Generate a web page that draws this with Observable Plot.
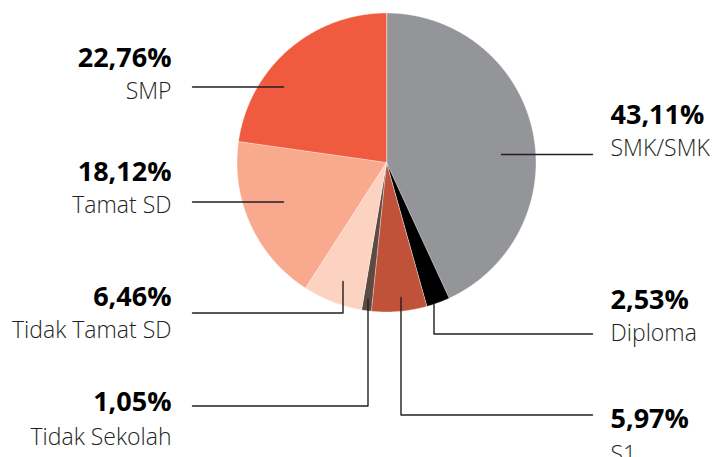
<!DOCTYPE html>
<html><head><meta charset="utf-8">
<script src="https://cdn.jsdelivr.net/npm/d3@7"></script>
<script src="https://cdn.jsdelivr.net/npm/@observablehq/plot@0.6"></script>
<style>html,body{margin:0;padding:0;background:#fff;overflow:hidden}</style>
</head><body><div id="chart"></div>
<script>
// ---- data ----
const categories = ["SMK/SMK", "Diploma", "S1", "Tidak Sekolah", "Tidak Tamat SD", "Tamat SD", "SMP"];
const values = [43.11, 2.53, 5.97, 1.05, 6.46, 18.12, 22.76];

// ---- styles ----
const colors = ["#939598", "#000000", "#c0523a", "#5f4a42", "#fcd3c1", "#f9a98e", "#f05b40"];

// ---- layout (pixels) ----
const pieGeom = {cx: 386, cy: 162, r: 149.5};
const leaders = {
  "SMK/SMK": [[501, 154], [592, 154]],
  "Diploma": [[433.5, 304], [433.5, 333.5], [592, 333.5]],
  "S1": [[400.5, 297], [400.5, 414.5], [592, 414.5]],
  "Tidak Sekolah": [[367.5, 299], [367.5, 405.5], [192, 405.5]],
  "Tidak Tamat SD": [[342.5, 281], [342.5, 312.5], [192, 312.5]],
  "Tamat SD": [[283, 201.5], [192, 201.5]],
  "SMP": [[283, 86.5], [192, 86.5]]
};
const labelPos = {
  "SMK/SMK": {x: 610, pct: 123, name: 155, side: "right"},
  "Diploma": {x: 610, pct: 308, name: 340, side: "right"},
  "S1": {x: 610, pct: 427, name: 461, side: "right"},
  "Tidak Sekolah": {x: 171, pct: 410, name: 444, side: "left"},
  "Tidak Tamat SD": {x: 171, pct: 305, name: 337, side: "left"},
  "Tamat SD": {x: 171, pct: 180, name: 212, side: "left"},
  "SMP": {x: 171, pct: 66, name: 98, side: "left"}
};

const rows = categories.map((c, i) => ({cat: c, value: values[i], color: colors[i],
  pctText: values[i].toFixed(2).replace(".", ",") + "%"}));

// slices from d3.pie (clockwise from 12 o'clock)
const arcs = d3.pie().sort(null).value(d => d.value)(rows);
const slicePts = [];
for (const a of arcs) {
  const {cx, cy, r} = pieGeom;
  slicePts.push({cat: a.data.cat, color: a.data.color, x: cx, y: cy});
  const n = Math.max(2, Math.ceil((a.endAngle - a.startAngle) / 0.005));
  for (let k = 0; k <= n; k++) {
    const t = a.startAngle + (a.endAngle - a.startAngle) * k / n;
    slicePts.push({cat: a.data.cat, color: a.data.color, x: cx + r * Math.sin(t), y: cy - r * Math.cos(t)});
  }
}

const leaderPts = rows.flatMap(d => leaders[d.cat].map(([x, y]) => ({cat: d.cat, x, y})));
const labels = rows.map(d => ({...d, ...labelPos[d.cat]}));
const left = labels.filter(d => d.side === "left");
const right = labels.filter(d => d.side === "right");

const font = "'Open Sans', sans-serif";
const pctOpts = {fontSize: 27, fontWeight: 700, fill: "#000", lineAnchor: "bottom", fontFamily: font};
const nameOpts = {fontSize: 23, fontWeight: 300, fill: "#231f20", lineAnchor: "bottom", fontFamily: font};

const chart = Plot.plot({
  width: 715, height: 457,
  margin: 0,
  x: {type: "linear", domain: [0, 715], range: [0, 715], axis: null},
  y: {type: "linear", domain: [0, 457], range: [0, 457], axis: null},
  color: {type: "identity"},
  style: {fontFamily: font, background: "#fff", overflow: "visible"},
  marks: [
    Plot.line(slicePts, {x: "x", y: "y", z: "cat", fill: "color", stroke: "#ffffff", strokeWidth: 0.4, curve: "linear-closed"}),
    Plot.line(leaderPts, {x: "x", y: "y", z: "cat", stroke: "#231f20", strokeWidth: 1.4}),
    Plot.text(left, {x: "x", y: "pct", text: "pctText", textAnchor: "end", ...pctOpts}),
    Plot.text(left, {x: "x", y: "name", text: "cat", textAnchor: "end", ...nameOpts}),
    Plot.text(right, {x: "x", y: "pct", text: "pctText", textAnchor: "start", ...pctOpts}),
    Plot.text(right, {x: "x", y: "name", text: "cat", textAnchor: "start", ...nameOpts})
  ]
});
document.getElementById("chart").appendChild(chart);
</script>
</body></html>
